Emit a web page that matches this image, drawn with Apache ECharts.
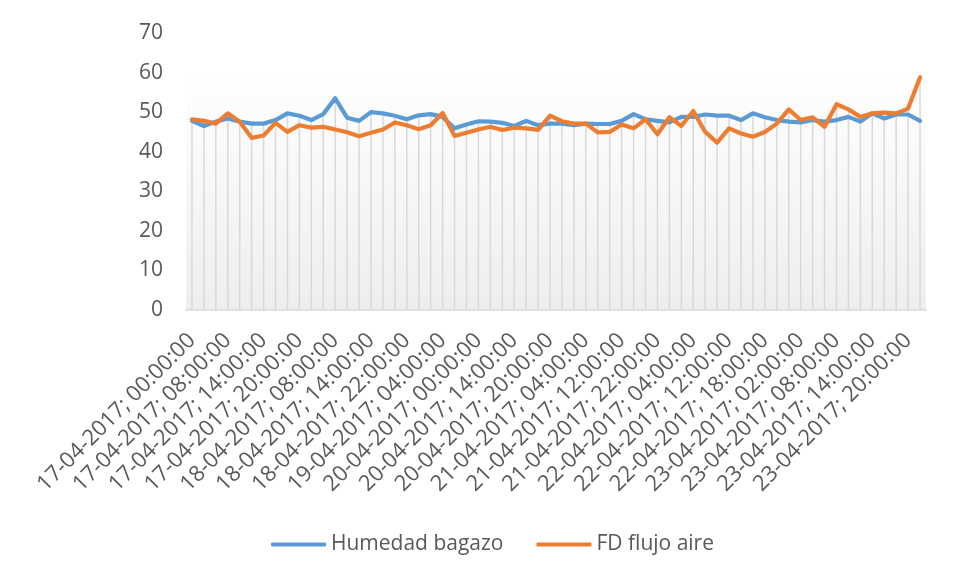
<!DOCTYPE html>
<html>
<head>
<meta charset="utf-8">
<script src="https://cdn.jsdelivr.net/npm/echarts@6/dist/echarts.min.js"></script>
<style>html,body{margin:0;padding:0;background:#fff;}#c{width:958px;height:579px;}</style>
</head>
<body>
<div id="c"></div>
<script>
const categories = [
  "17-04-2017; 00:00:00","17-04-2017; 02:00:00","17-04-2017; 04:00:00","17-04-2017; 08:00:00",
  "17-04-2017; 10:00:00","17-04-2017; 12:00:00","17-04-2017; 14:00:00","17-04-2017; 16:00:00",
  "17-04-2017; 18:00:00","17-04-2017; 20:00:00","18-04-2017; 00:00:00","18-04-2017; 04:00:00",
  "18-04-2017; 08:00:00","18-04-2017; 10:00:00","18-04-2017; 12:00:00","18-04-2017; 14:00:00",
  "18-04-2017; 18:00:00","18-04-2017; 20:00:00","18-04-2017; 22:00:00","19-04-2017; 00:00:00",
  "19-04-2017; 02:00:00","19-04-2017; 04:00:00","19-04-2017; 12:00:00","19-04-2017; 20:00:00",
  "20-04-2017; 00:00:00","20-04-2017; 06:00:00","20-04-2017; 10:00:00","20-04-2017; 14:00:00",
  "20-04-2017; 16:00:00","20-04-2017; 18:00:00","20-04-2017; 20:00:00","20-04-2017; 22:00:00",
  "21-04-2017; 02:00:00","21-04-2017; 04:00:00","21-04-2017; 08:00:00","21-04-2017; 10:00:00",
  "21-04-2017; 12:00:00","21-04-2017; 16:00:00","21-04-2017; 20:00:00","21-04-2017; 22:00:00",
  "22-04-2017; 00:00:00","22-04-2017; 02:00:00","22-04-2017; 04:00:00","22-04-2017; 08:00:00",
  "22-04-2017; 10:00:00","22-04-2017; 12:00:00","22-04-2017; 14:00:00","22-04-2017; 16:00:00",
  "22-04-2017; 18:00:00","22-04-2017; 20:00:00","22-04-2017; 22:00:00","23-04-2017; 02:00:00",
  "23-04-2017; 04:00:00","23-04-2017; 06:00:00","23-04-2017; 08:00:00","23-04-2017; 10:00:00",
  "23-04-2017; 12:00:00","23-04-2017; 14:00:00","23-04-2017; 16:00:00","23-04-2017; 18:00:00",
  "23-04-2017; 20:00:00","23-04-2017; 22:00:00"
];
const humedadBagazo = [
  47.8,46.5,47.6,48.4,47.6,47.1,47.1,48.0,49.7,49.1,48.0,49.5,
  53.5,48.6,47.8,50.0,49.7,49.1,48.2,49.2,49.5,48.8,45.9,46.9,
  47.7,47.6,47.3,46.5,47.8,46.7,47.1,47.1,46.7,47.1,47.0,47.0,
  47.8,49.5,48.2,47.8,47.4,48.8,48.8,49.4,49.1,49.1,48.0,49.7,
  48.7,48.0,47.6,47.4,48.0,47.6,48.0,48.8,47.6,49.7,48.4,49.4,
  49.4,47.8
];
const fdFlujoAire = [
  48.2,47.8,47.1,49.7,47.6,43.5,44.1,47.3,45.0,46.7,46.1,46.3,
  45.6,44.9,43.9,44.8,45.6,47.4,46.7,45.7,46.7,49.8,44.0,44.8,
  45.6,46.3,45.5,46.1,45.9,45.5,49.1,47.7,47.1,47.1,44.9,45.0,
  46.9,45.9,48.2,44.4,48.7,46.5,50.3,45.0,42.3,45.9,44.6,43.8,
  45.0,47.1,50.7,48.0,48.7,46.3,52.0,50.7,48.8,49.7,49.9,49.7,
  50.9,58.8
];
const yTicks = [0,10,20,30,40,50,60,70];
const seriesNames = ["Humedad bagazo","FD flujo aire"];

const FONT = "'Open Sans', 'Noto Sans', sans-serif";
const chart = echarts.init(document.getElementById('c'), null, {renderer:'canvas'});
const dropData = categories.map((c,i)=>[i, humedadBagazo[i], fdFlujoAire[i]]);

chart.setOption({
  animation:false,
  backgroundColor:'#ffffff',
  grid:{
    left:186, right:32, top:33, bottom:269, show:true, borderWidth:0,
    backgroundColor:{type:'linear',x:0,y:0,x2:0,y2:1,colorStops:[
      {offset:0,color:'#ffffff'},{offset:0.14,color:'#ffffff'},{offset:1,color:'#eeeeee'}]}
  },
  legend:{
    bottom:19, left:266, itemWidth:55, itemHeight:4, itemGap:33,
    icon:'roundRect',
    textStyle:{fontFamily:FONT,fontSize:21,color:'#595959'},
    data:seriesNames
  },
  xAxis:{
    type:'category', data:categories, boundaryGap:true,
    axisLine:{lineStyle:{color:'#d9d9d9',width:1.5}},
    axisTick:{show:false},
    axisLabel:{rotate:45, interval:2, margin:27, fontFamily:FONT, fontSize:22, color:'#595959'},
    splitLine:{show:false}
  },
  yAxis:{
    type:'value', min:yTicks[0], max:yTicks[yTicks.length-1], interval:10,
    axisLine:{show:false}, axisTick:{show:false}, splitLine:{show:false},
    axisLabel:{margin:23, fontFamily:FONT, fontSize:21, color:'#595959'}
  },
  series:[
    {
      type:'custom', name:'drop', silent:true, z:1, legendHoverLink:false,
      data:dropData,
      renderItem:function(params, api){
        const i = api.value(0);
        const top = Math.max(api.value(1), api.value(2));
        const p1 = api.coord([i, top]);
        const p0 = api.coord([i, 0]);
        return {type:'line', shape:{x1:p1[0],y1:p1[1],x2:p0[0],y2:p0[1]},
          style:{stroke:'#d9d9d9', lineWidth:1.5}};
      }
    },
    {
      name:seriesNames[0], type:'line', data:humedadBagazo, z:3,
      symbol:'none', lineStyle:{color:'#5B9BD5', width:4.2, cap:'round', join:'round'},
      itemStyle:{color:'#5B9BD5'}
    },
    {
      name:seriesNames[1], type:'line', data:fdFlujoAire, z:4,
      symbol:'none', lineStyle:{color:'#ED7D31', width:4.2, cap:'round', join:'round'},
      itemStyle:{color:'#ED7D31'}
    }
  ]
});
</script>
</body>
</html>
